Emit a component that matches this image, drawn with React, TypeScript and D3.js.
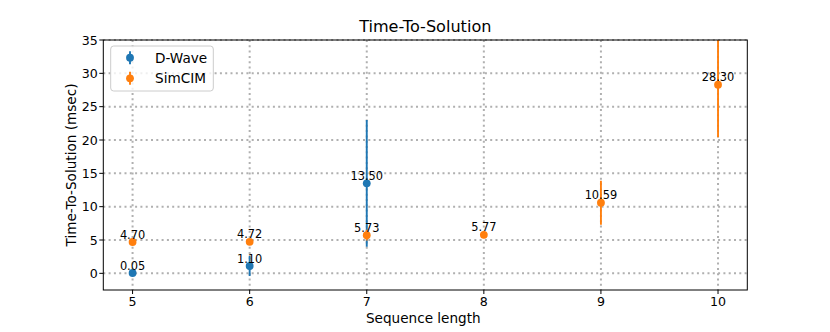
import React from "react";
import * as d3 from "d3";

const seqLengths = [5, 6, 7, 8, 9, 10];
const dwaveX = [5, 6, 7];
const dwaveY = [0.05, 1.1, 13.5];
const dwaveErr = [0.1, 1.5, 9.5];
const simcimX = [5, 6, 7, 8, 9, 10];
const simcimY = [4.7, 4.72, 5.73, 5.77, 10.59, 28.3];
const simcimErr = [0.3, 0.3, 0.8, 0.5, 3.3, 7.9];
const yTicks = [0, 5, 10, 15, 20, 25, 30, 35];

const W = 830;
const H = 332;
const L = 103.3, R = 747.3, T = 40, B = 290;
const FONT = "DejaVu Sans, sans-serif";
const BLUE = "#1f77b4";
const ORANGE = "#ff7f0e";

export default function App() {
  const x = d3.scaleLinear().domain([4.75, 10.25]).range([L, R]);
  const y = d3.scaleLinear().domain([-2.5, 35]).range([B, T]);

  const series = [
    { name: "D-Wave", xs: dwaveX, ys: dwaveY, es: dwaveErr, color: BLUE },
    { name: "SimCIM", xs: simcimX, ys: simcimY, es: simcimErr, color: ORANGE },
  ];

  return (
    <svg width={W} height={H} style={{ position: "absolute", left: 0, top: 0, background: "#fff" }} fontFamily={FONT}>
      <defs>
        <clipPath id="plotclip">
          <rect x={L} y={T} width={R - L} height={B - T} />
        </clipPath>
      </defs>
      <rect x={0} y={0} width={W} height={H} fill="#fff" />
      {/* grid */}
      <g stroke="#b0b0b0" strokeWidth={2} strokeDasharray="2,3.3">
        {seqLengths.map((v) => (
          <line key={"gx" + v} x1={x(v)} x2={x(v)} y1={T} y2={B} />
        ))}
        {yTicks.map((v) => (
          <line key={"gy" + v} x1={L} x2={R} y1={y(v)} y2={y(v)} />
        ))}
      </g>
      {/* series */}
      <g clipPath="url(#plotclip)">
        {series.map((s) => (
          <g key={s.name}>
            {s.xs.map((xv, i) => (
              <line
                key={"e" + i}
                x1={x(xv)}
                x2={x(xv)}
                y1={y(s.ys[i] - s.es[i])}
                y2={y(s.ys[i] + s.es[i])}
                stroke={s.color}
                strokeWidth={1.9}
              />
            ))}
            {s.xs.map((xv, i) => (
              <circle key={"c" + i} cx={x(xv)} cy={y(s.ys[i])} r={3.9} fill={s.color} />
            ))}
          </g>
        ))}
        {series.map((s) =>
          s.xs.map((xv, i) => (
            <text
              key={s.name + "t" + i}
              x={x(xv)}
              y={y(s.ys[i]) - 3.5}
              textAnchor="middle"
              fontSize={11.4}
              fill="#000"
            >
              {s.ys[i].toFixed(2)}
            </text>
          ))
        )}
      </g>
      {/* spines */}
      <rect x={L} y={T} width={R - L} height={B - T} fill="none" stroke="#000" strokeWidth={1} />
      {/* x ticks */}
      {seqLengths.map((v) => (
        <g key={"xt" + v}>
          <line x1={x(v)} x2={x(v)} y1={B} y2={B + 4} stroke="#000" strokeWidth={1} />
          <text x={x(v)} y={B + 15.5} textAnchor="middle" fontSize={12.6} fill="#000">
            {v}
          </text>
        </g>
      ))}
      {/* y ticks */}
      {yTicks.map((v) => (
        <g key={"yt" + v}>
          <line x1={L - 4} x2={L} y1={y(v)} y2={y(v)} stroke="#000" strokeWidth={1} />
          <text x={L - 5.5} y={y(v) + 4.6} textAnchor="end" fontSize={12.6} fill="#000">
            {v}
          </text>
        </g>
      ))}
      {/* labels */}
      <text x={(L + R) / 2} y={32} textAnchor="middle" fontSize={16.1} fill="#000">
        Time-To-Solution
      </text>
      <text x={(L + R) / 2 - 2} y={323} textAnchor="middle" fontSize={13.6} fill="#000">
        Sequence length
      </text>
      <text
        transform={`translate(${75.5},${(T + B) / 2}) rotate(-90)`}
        textAnchor="middle"
        fontSize={13.6}
        fill="#000"
      >
        Time-To-Solution (msec)
      </text>
      {/* legend */}
      <g>
        <rect x={110.7} y={46} width={102.6} height={45} rx={3} fill="#fff" fillOpacity={0.8} stroke="#cccccc" strokeWidth={1} />
        {series.map((s, i) => {
          const cy = 57.7 + i * 20.6;
          return (
            <g key={"lg" + s.name}>
              <line x1={130} x2={130} y1={cy - 6.5} y2={cy + 6.5} stroke={s.color} strokeWidth={1.9} />
              <circle cx={130} cy={cy} r={3.9} fill={s.color} />
              <text x={155} y={cy + 5} fontSize={13.6} fill="#000">
                {s.name}
              </text>
            </g>
          );
        })}
      </g>
    </svg>
  );
}
